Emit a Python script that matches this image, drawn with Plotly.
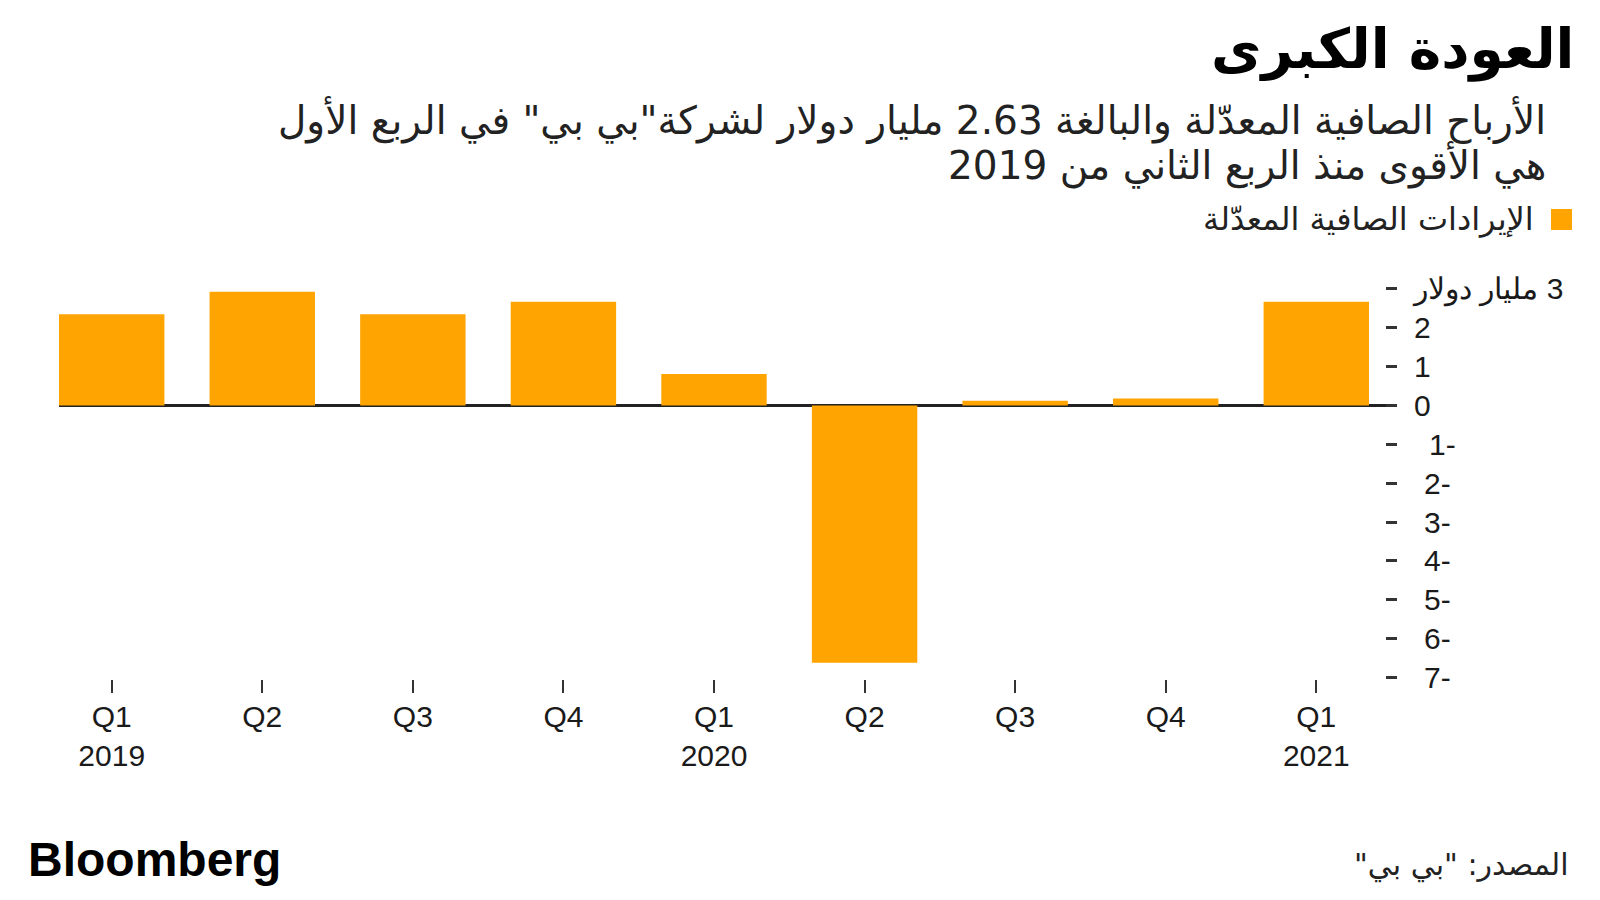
import plotly.graph_objects as go

# ---- data ----
quarters = ["Q1", "Q2", "Q3", "Q4", "Q1", "Q2", "Q3", "Q4", "Q1"]
years = ["2019", "", "", "", "2020", "", "", "", "2021"]
profit = [2.35, 2.93, 2.35, 2.67, 0.81, -6.62, 0.12, 0.18, 2.67]
y_ticks = [3, 2, 1, 0, -1, -2, -3, -4, -5, -6, -7]
y_ticktext = ["\u200f3 مليار دولار", "2", "1", "0",
              "\u2004\u20061-", "\u20042-", "\u20043-", "\u20044-", "\u20045-", "\u20046-", "\u20047-"]
series_name = "الإيرادات الصافية المعدّلة"
title = "العودة الكبرى"
subtitle1 = "الأرباح الصافية المعدّلة والبالغة 2.63 مليار دولار لشركة\"بي بي\" في الربع الأول"
subtitle2 = "هي الأقوى منذ الربع الثاني من 2019"
source = "\u200fالمصدر: \"بي بي\"\u200f"

ORANGE = "#ffa400"
INK = "#1a1a1a"
AR_FONT = "DejaVu Sans"
NUM_FONT = "Liberation Sans"

W, H = 1600, 900
OFF = 8  # page body margin
# plot area in screen (reference) pixels
L_REF, R_REF, T_REF, B_REF = 59, 1397, 280, 679
L, R, T, B = L_REF - OFF, R_REF - OFF, T_REF - OFF, B_REF - OFF

def px(x):
    return (x - OFF - L) / (R - L)

def py(y):
    return (B - (y - OFF)) / (B - T)

xs = list(range(len(quarters)))
ticktext = [q if not yr else f"{q}<br>{yr}" for q, yr in zip(quarters, years)]

fig = go.Figure()
fig.add_trace(go.Bar(x=xs, y=profit, marker_color=ORANGE, marker_line_width=0,
                     width=0.7, name=series_name, showlegend=False))

fig.update_layout(
    width=W, height=H,
    margin=dict(l=L, r=W - R, t=T, b=H - B, pad=0),
    paper_bgcolor="white", plot_bgcolor="white",
    bargap=0.3,
    xaxis=dict(range=[-0.35, 8.536], tickvals=xs, ticktext=ticktext,
               showgrid=False, zeroline=False, showline=False,
               ticks="outside", ticklen=13, tickwidth=2, tickcolor="#333",
               tickfont=dict(family=NUM_FONT, size=30, color=INK),
               ticklabelstandoff=-2),
    yaxis=dict(range=[-7.04, 3.23], side="right", tickvals=y_ticks, ticktext=y_ticktext,
               showgrid=False, zeroline=True, zerolinecolor="#222", zerolinewidth=2.5,
               showline=False, ticks="inside", ticklen=11, tickwidth=2.5, tickcolor="#333",
               tickfont=dict(family=NUM_FONT, size=30, color=INK),
               ticklabelstandoff=16),
)

ann = []
ann.append(dict(text=f"<b>{title}</b>", x=px(1576), y=py(50), xref="paper", yref="paper",
                xanchor="right", yanchor="middle", showarrow=False,
                font=dict(family=AR_FONT, size=55, color="#000")))
ann.append(dict(text=subtitle1, x=px(1548), y=py(120), xref="paper", yref="paper",
                xanchor="right", yanchor="middle", showarrow=False,
                font=dict(family=AR_FONT, size=39, color="#222")))
ann.append(dict(text=subtitle2, x=px(1548), y=py(165), xref="paper", yref="paper",
                xanchor="right", yanchor="middle", showarrow=False,
                font=dict(family=AR_FONT, size=39, color="#222")))
ann.append(dict(text=series_name, x=px(1536), y=py(219), xref="paper", yref="paper",
                xanchor="right", yanchor="middle", showarrow=False,
                font=dict(family=AR_FONT, size=32, color="#222")))
ann.append(dict(text="<b>Bloomberg</b>", x=px(26), y=py(859), xref="paper", yref="paper",
                xanchor="left", yanchor="middle", showarrow=False,
                font=dict(family=NUM_FONT, size=48, color="#000")))
ann.append(dict(text=source, x=px(1571), y=py(865), xref="paper", yref="paper",
                xanchor="right", yanchor="middle", showarrow=False,
                font=dict(family=AR_FONT, size=30, color="#222")))
fig.update_layout(annotations=ann)

fig.add_shape(type="rect", xref="paper", yref="paper",
              x0=px(1551), x1=px(1572), y0=py(230), y1=py(209),
              fillcolor=ORANGE, line_width=0)

fig.write_html("out.html")
